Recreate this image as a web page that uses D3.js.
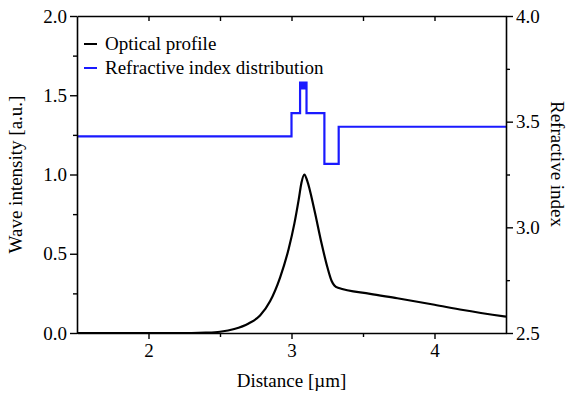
<!DOCTYPE html>
<html>
<head>
<meta charset="utf-8">
<script src="https://cdn.jsdelivr.net/npm/d3@7"></script>
<style>
  body { margin: 0; background: #fff; }
  svg { display: block; }
</style>
</head>
<body>
<svg id="chart" width="570" height="394"></svg>
<script>
// Optical profile (left axis)
const profileX = [1.5, 2.3, 2.4, 2.5, 2.6, 2.7, 2.78, 2.85, 2.92, 2.98, 3.02, 3.05, 3.07, 3.09, 3.11, 3.16, 3.21, 3.25, 3.28, 3.3, 3.325, 3.55, 3.74, 4.0, 4.2, 4.5];
const profileY = [0, 0, 0.002, 0.008, 0.025, 0.06, 0.11, 0.2, 0.35, 0.53, 0.69, 0.84, 0.95, 1.0, 0.96, 0.776, 0.566, 0.418, 0.33, 0.3, 0.285, 0.247, 0.219, 0.178, 0.145, 0.103];

// Refractive index distribution (right axis), step points
const indexX = [1.5, 3.0, 3.0, 3.06, 3.06, 3.105, 3.105, 3.06, 3.06, 3.105, 3.105, 3.06, 3.06, 3.105, 3.105, 3.23, 3.23, 3.33, 3.33, 4.5];
const indexN = [3.43, 3.43, 3.54, 3.54, 3.685, 3.685, 3.678, 3.678, 3.671, 3.671, 3.664, 3.664, 3.658, 3.658, 3.54, 3.54, 3.30, 3.30, 3.476, 3.476];

const xTicks = [2, 3, 4];
const xMinor = [2.5, 3.5];
const yTicks = [0, 0.5, 1.0, 1.5, 2.0];
const yMinor = [0.25, 0.75, 1.25, 1.75];
const nTicks = [2.5, 3.0, 3.5, 4.0];
const nMinor = [2.75, 3.25, 3.75];

const legendItems = [
  { label: "Optical profile", color: "#000" },
  { label: "Refractive index distribution", color: "#1a1aff" }
];

const svg = d3.select("#chart");
const W = 570, H = 394;
const margin = { top: 16, right: 64, bottom: 61, left: 77 };
const FONT = "'Liberation Serif', 'Times New Roman', serif";
const FS = 19;

const x = d3.scaleLinear().domain([1.5, 4.5]).range([margin.left, W - margin.right]);
const y = d3.scaleLinear().domain([0, 2]).range([H - margin.bottom, margin.top]);
const yn = d3.scaleLinear().domain([2.5, 4.0]).range([H - margin.bottom, margin.top]);

// data lines
const profile = profileX.map((d, i) => [d, profileY[i]]);
const index = indexX.map((d, i) => [d, indexN[i]]);

svg.append("path")
  .datum(index)
  .attr("fill", "none")
  .attr("stroke", "#1a1aff")
  .attr("stroke-width", 2.2)
  .attr("d", d3.line().x(d => x(d[0])).y(d => yn(d[1])));

svg.append("path")
  .datum(profile)
  .attr("fill", "none")
  .attr("stroke", "#000")
  .attr("stroke-width", 2.2)
  .attr("d", d3.line().curve(d3.curveMonotoneX).x(d => x(d[0])).y(d => y(d[1])));

// axes helper
function styleAxis(g) {
  g.selectAll("path").attr("stroke", "#000").attr("stroke-width", 1.6);
  g.selectAll("line").attr("stroke", "#000").attr("stroke-width", 1.4);
  g.selectAll("text").attr("font-family", FONT).attr("font-size", FS).attr("fill", "#000");
}

// bottom
svg.append("g")
  .attr("transform", `translate(0,${H - margin.bottom})`)
  .call(d3.axisBottom(x).tickValues(xMinor).tickSize(4).tickFormat(""))
  .call(g => g.select(".domain").remove())
  .call(styleAxis);
svg.append("g")
  .attr("transform", `translate(0,${H - margin.bottom})`)
  .call(d3.axisBottom(x).tickValues(xTicks).tickSize(6).tickPadding(5).tickFormat(d3.format("d")).tickSizeOuter(0))
  .call(styleAxis);

// top (inward ticks)
svg.append("g")
  .attr("transform", `translate(0,${margin.top})`)
  .call(d3.axisBottom(x).tickValues(xTicks.concat(xMinor)).tickSize(5).tickFormat("").tickSizeOuter(0))
  .call(styleAxis);

// left
svg.append("g")
  .attr("transform", `translate(${margin.left},0)`)
  .call(d3.axisLeft(y).tickValues(yMinor).tickSize(4).tickFormat(""))
  .call(g => g.select(".domain").remove())
  .call(styleAxis);
svg.append("g")
  .attr("transform", `translate(${margin.left},0)`)
  .call(d3.axisLeft(y).tickValues(yTicks).tickSize(7).tickPadding(3).tickFormat(d3.format(".1f")).tickSizeOuter(0))
  .call(styleAxis);

// right
svg.append("g")
  .attr("transform", `translate(${W - margin.right},0)`)
  .call(d3.axisRight(yn).tickValues(nMinor).tickSize(4).tickFormat(""))
  .call(g => g.select(".domain").remove())
  .call(styleAxis);
svg.append("g")
  .attr("transform", `translate(${W - margin.right},0)`)
  .call(d3.axisRight(yn).tickValues(nTicks).tickSize(7).tickPadding(3).tickFormat(d3.format(".1f")).tickSizeOuter(0))
  .call(styleAxis);

// axis titles
svg.append("text")
  .attr("x", (margin.left + W - margin.right) / 2)
  .attr("y", 387)
  .attr("text-anchor", "middle")
  .attr("font-family", FONT).attr("font-size", FS)
  .text("Distance [\u00b5m]");

svg.append("text")
  .attr("transform", `translate(22,${(margin.top + H - margin.bottom) / 2}) rotate(-90)`)
  .attr("text-anchor", "middle")
  .attr("font-family", FONT).attr("font-size", FS)
  .text("Wave intensity [a.u.]");

svg.append("text")
  .attr("transform", `translate(551,164) rotate(90)`)
  .attr("text-anchor", "middle")
  .attr("font-family", FONT).attr("font-size", FS)
  .text("Refractive index");

// legend
const legend = svg.append("g");
legendItems.forEach((item, i) => {
  const ly = 44 + i * 24;
  legend.append("line")
    .attr("x1", 84).attr("x2", 97)
    .attr("y1", ly).attr("y2", ly)
    .attr("stroke", item.color).attr("stroke-width", 2);
  legend.append("text")
    .attr("x", 105).attr("y", ly + 6)
    .attr("font-family", FONT).attr("font-size", FS)
    .text(item.label);
});
</script>
</body>
</html>
